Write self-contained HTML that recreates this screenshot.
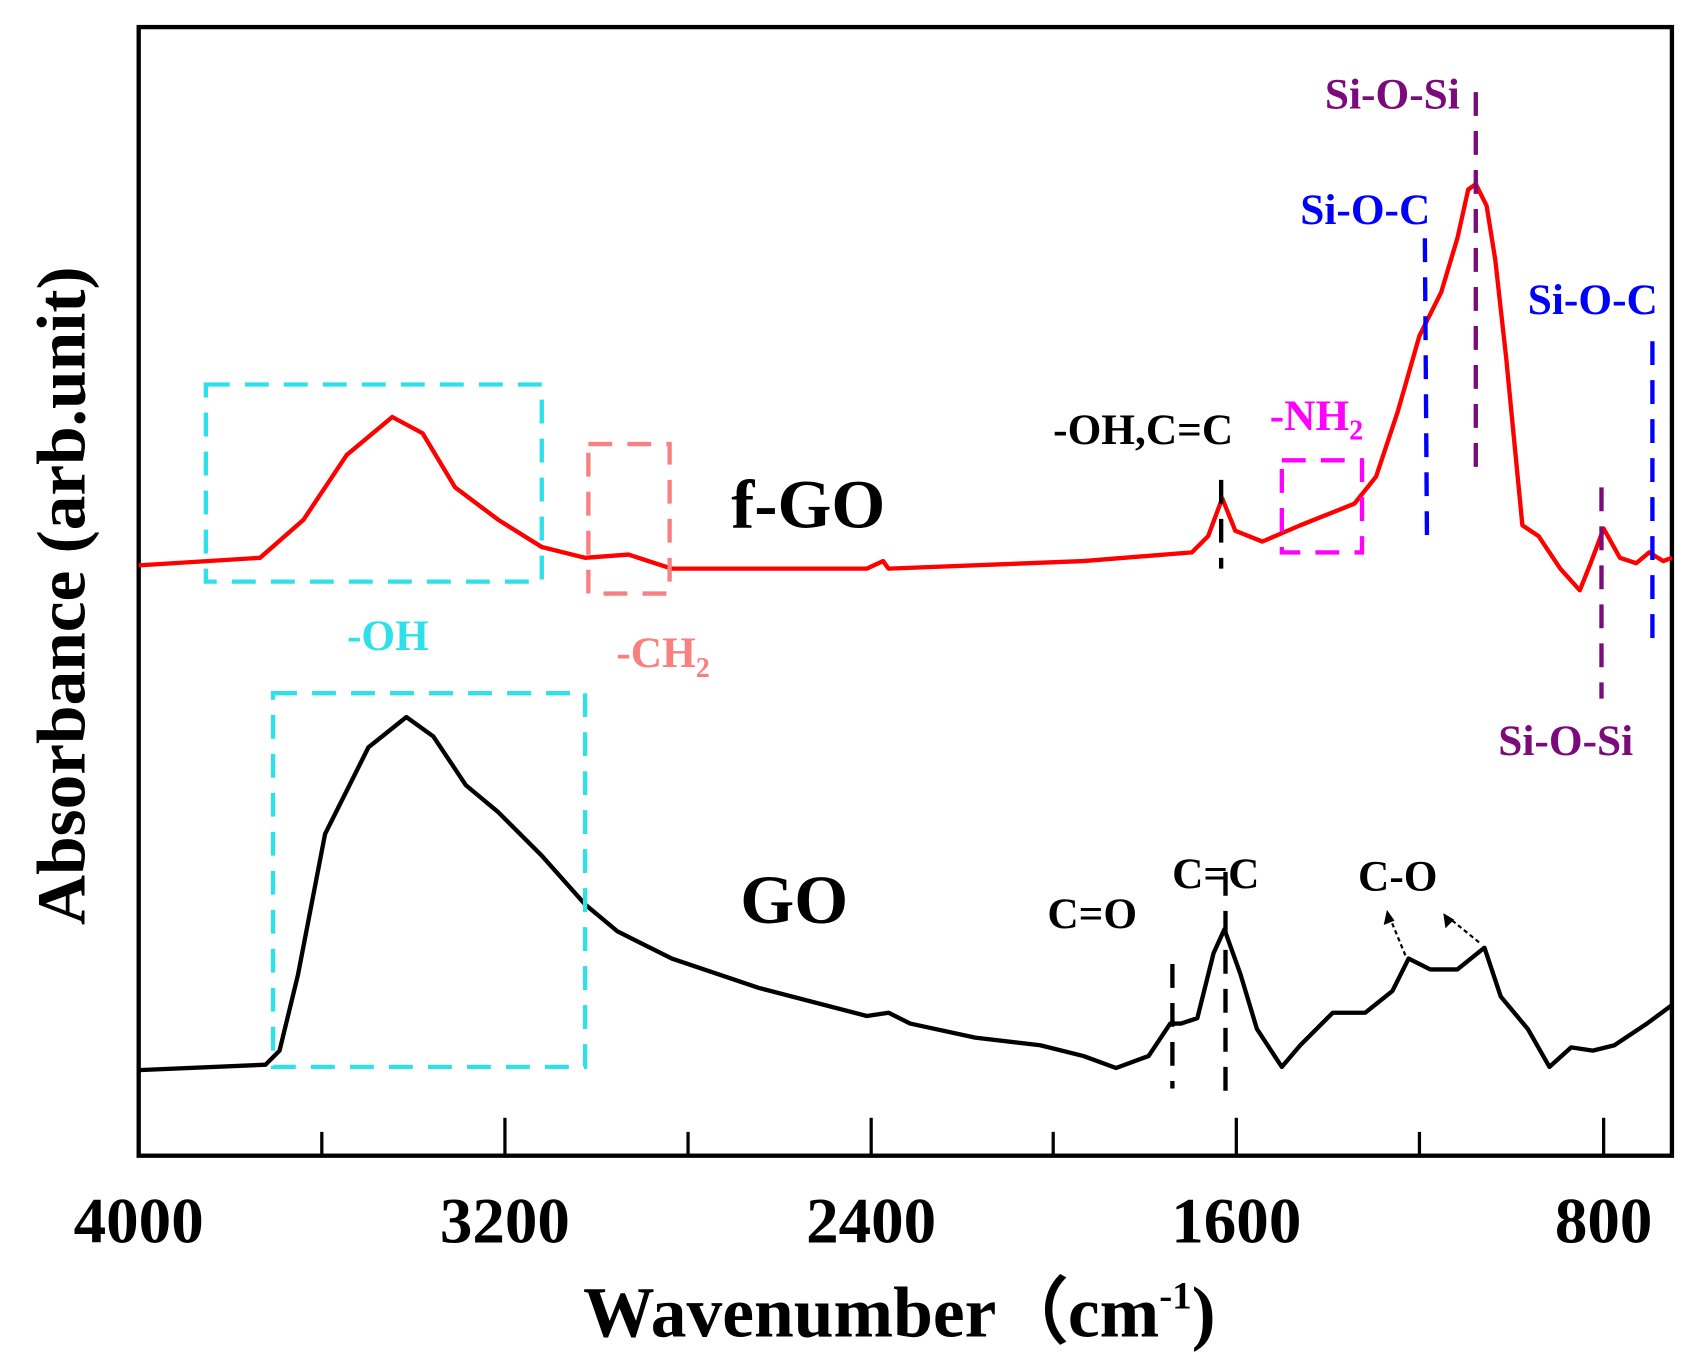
<!DOCTYPE html>
<html><head><style>html,body{margin:0;padding:0;background:#fff;overflow:hidden}svg{display:block}</style></head>
<body>
<svg width="1699" height="1368" viewBox="0 0 1568 1263" preserveAspectRatio="none" xmlns="http://www.w3.org/2000/svg" font-family="'Liberation Serif',serif" font-weight="bold">
<rect x="128" y="25" width="1415" height="1042" fill="none" stroke="#000" stroke-width="4"/>
<g stroke="#000" stroke-width="3">
<line x1="297" y1="1067" x2="297" y2="1045"/><line x1="466" y1="1067" x2="466" y2="1032"/>
<line x1="635" y1="1067" x2="635" y2="1045"/><line x1="804" y1="1067" x2="804" y2="1032"/>
<line x1="972" y1="1067" x2="972" y2="1045"/><line x1="1141" y1="1067" x2="1141" y2="1032"/>
<line x1="1310" y1="1067" x2="1310" y2="1045"/><line x1="1480" y1="1067" x2="1480" y2="1032"/>
</g>
<g font-size="60" text-anchor="middle">
<text x="128" y="1147">4000</text><text x="466" y="1147">3200</text><text x="804" y="1147">2400</text><text x="1141" y="1147">1600</text><text x="1480" y="1147">800</text>
</g>
<text x="830" y="1234" font-size="66" text-anchor="middle">Wavenumber（cm<tspan font-size="36" dy="-26">-1</tspan><tspan dy="26">)</tspan></text>
<text transform="translate(78,550) rotate(-90)" font-size="64" text-anchor="middle">Absorbance (arb.unit)</text>
<g fill="none" stroke-width="4" stroke-linejoin="round">
<polyline stroke="#f00" points="128,522 240,515 280,480 320,420 362,385 390,400 420,450 460,480 500,505 540,515 580,512 620,525 800,525 815,518 820,525 1000,518 1100,510 1115,495 1128,460 1140,490 1165,500 1200,485 1250,465 1270,440 1290,380 1310,310 1330,270 1345,220 1355,175 1362,170 1372,190 1380,240 1390,330 1405,485 1420,495 1440,525 1458,545 1468,520 1480,488 1495,515 1510,520 1522,510 1535,518 1543,515"/>
<polyline stroke="#000" points="128,988 245,983 258,970 275,900 300,770 340,690 375,662 400,680 430,725 460,750 500,790 540,835 570,860 620,885 700,912 800,938 820,935 840,945 900,958 960,965 1000,975 1030,986 1060,975 1080,945 1090,945 1105,940 1120,880 1130,858 1145,900 1160,950 1183,985 1200,965 1230,935 1260,935 1285,915 1300,885 1320,895 1345,895 1370,875 1385,920 1410,950 1430,985 1450,967 1470,970 1490,965 1520,945 1543,928"/>
</g>
<g fill="none" stroke-width="4" stroke-dasharray="22,14">
<rect x="190" y="355" width="310" height="182" stroke="#2ee0e8"/>
<rect x="543" y="410" width="75" height="138" stroke="#f88080"/>
<rect x="1183" y="425" width="74" height="85" stroke="#f0f"/>
<rect x="252" y="640" width="288" height="345" stroke="#2ee0e8"/>
<line x1="1127" y1="443" x2="1127" y2="525" stroke="#000"/>
<line x1="1315" y1="220" x2="1317" y2="505" stroke="#00f"/>
<line x1="1362" y1="85" x2="1362" y2="440" stroke="#7b0a7b"/>
<line x1="1478" y1="450" x2="1478" y2="645" stroke="#7b0a7b"/>
<line x1="1525" y1="315" x2="1525" y2="600" stroke="#00f"/>
<line x1="1082" y1="890" x2="1082" y2="1005" stroke="#000"/>
<line x1="1131" y1="805" x2="1131" y2="1010" stroke="#000"/>
</g>
<g stroke="#000" stroke-width="2" fill="none" stroke-dasharray="4,3">
<line x1="1297" y1="882" x2="1283" y2="848"/><line x1="1365" y1="870" x2="1338" y2="848"/>
</g>
<path d="M1280,840 l-3,14 l10,-4z M1332,843 l2,14 l8,-8z" fill="#000"/>
<g font-size="40">
<text x="1285" y="100" fill="#7b0a7b" text-anchor="middle">Si-O-Si</text>
<text x="1260" y="207" fill="#00f" text-anchor="middle">Si-O-C</text>
<text x="1470" y="290" fill="#00f" text-anchor="middle">Si-O-C</text>
<text x="1055" y="410" fill="#000" text-anchor="middle">-OH,C=C</text>
<text x="1215" y="397" fill="#f0f" text-anchor="middle">-NH<tspan font-size="26" dy="9">2</tspan></text>
<text x="358" y="600" fill="#2ee0e8" text-anchor="middle">-OH</text>
<text x="612" y="616" fill="#f88080" text-anchor="middle">-CH<tspan font-size="26" dy="9">2</tspan></text>
<text x="1445" y="697" fill="#7b0a7b" text-anchor="middle">Si-O-Si</text>
<text x="1008" y="857" fill="#000" text-anchor="middle">C=O</text>
<text x="1122" y="820" fill="#000" text-anchor="middle">C=C</text>
<text x="1290" y="822" fill="#000" text-anchor="middle">C-O</text>
</g>
<text x="746" y="487" font-size="64" text-anchor="middle">f-GO</text>
<text x="733" y="852" font-size="64" text-anchor="middle">GO</text>
</svg>
</body></html>
